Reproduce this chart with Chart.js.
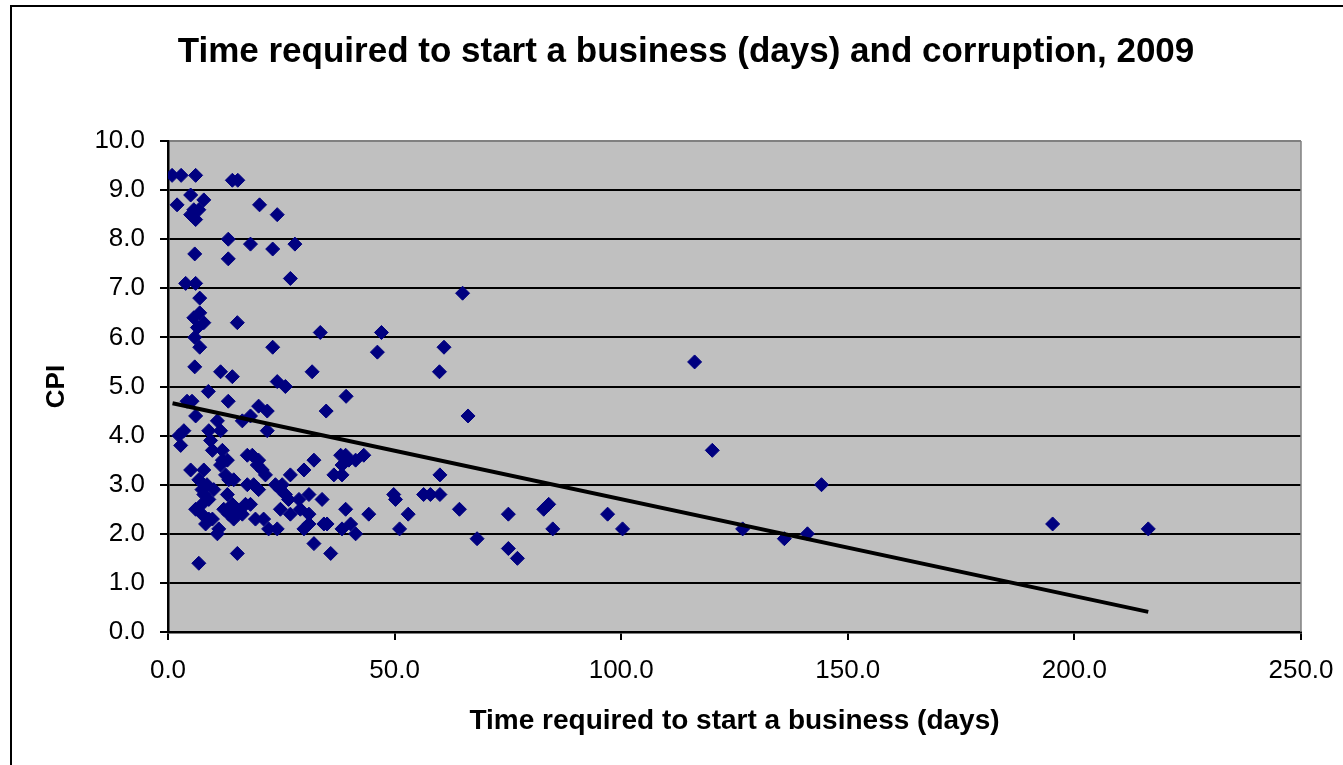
<!DOCTYPE html>
<html>
<head>
<meta charset="utf-8">
<script src="https://cdn.jsdelivr.net/npm/chart.js@4"></script>
<style>
html, body { margin: 0; padding: 0; background: #fff; overflow: hidden; width: 1343px; height: 765px; }
#frame { position: absolute; left: 10px; top: 5px; width: 1400px; height: 800px; border-left: 2px solid #000; border-top: 2px solid #000; }
#wrap { position: absolute; left: 0; top: 0; width: 1343px; height: 765px; }
</style>
</head>
<body>
<div id="frame"></div>
<div id="wrap"><canvas id="c" width="1343" height="765"></canvas></div>
<script>
// Time required to start a business (days)
const days = [
  0.9, 2.9, 6.1, 14.2, 15.4, 5.0, 2.0, 7.9, 5.7, 6.8,
  5.0, 6.1, 20.2, 24.1, 13.3, 18.2, 23.1, 28.0, 5.9, 13.3,
  3.9, 6.1, 27.0, 7.0, 7.0, 5.7, 7.9, 6.5, 15.3, 33.6,
  5.9, 7.0, 23.1, 5.9, 11.6, 14.2, 24.1, 31.8, 47.1, 60.9,
  46.2, 59.9, 25.9, 39.3, 34.9, 66.2, 65.0, 8.9, 4.2, 5.3,
  13.3, 20.0, 21.9, 6.1, 10.9, 18.2, 16.4, 11.6, 9.0, 21.9,
  3.5, 2.4, 2.8, 9.4, 9.8, 12.0, 12.0, 13.1, 17.5, 18.6,
  20.0, 11.6, 12.7, 20.8, 21.5, 5.0, 7.9, 6.8, 13.4, 14.5,
  17.5, 18.9, 20.0, 7.5, 10.1, 7.9, 9.0, 6.1, 7.5, 13.1,
  14.2, 17.1, 18.2, 7.5, 9.0, 8.3, 9.8, 12.3, 13.4, 15.3,
  16.4, 14.5, 19.3, 21.1, 22.2, 11.2, 10.9, 15.3, 6.8, 19.7,
  32.2, 30.0, 27.0, 38.1, 39.2, 39.9, 41.4, 43.2, 38.4, 36.6,
  38.4, 23.7, 24.8, 25.9, 26.6, 28.9, 31.1, 34.0, 24.8, 27.0,
  31.1, 39.2, 44.3, 24.1, 30.0, 31.1, 34.4, 35.1, 38.4, 40.3,
  41.4, 32.2, 35.9, 60.0, 49.8, 50.2, 56.4, 57.9, 60.0, 53.0,
  64.3, 51.1, 68.2, 75.1, 75.1, 77.1, 82.9, 84.0, 84.9, 97.0,
  100.3, 116.2, 120.1, 126.8, 136.0, 141.1, 144.2, 195.2, 216.3, 25.2,
  8.6, 29.2
];
// Corruption Perceptions Index
const cpi = [
  9.3, 9.3, 9.3, 9.2, 9.2, 8.9, 8.7, 8.8, 8.6, 8.6,
  8.5, 8.4, 8.7, 8.5, 8.0, 7.9, 7.8, 7.9, 7.7, 7.6,
  7.1, 7.1, 7.2, 6.8, 6.5, 6.4, 6.3, 6.2, 6.3, 6.1,
  6.0, 5.8, 5.8, 5.4, 5.3, 5.2, 5.1, 5.3, 6.1, 5.8,
  5.7, 5.3, 5.0, 4.8, 4.5, 4.4, 6.9, 4.9, 4.7, 4.7,
  4.7, 4.6, 4.5, 4.4, 4.3, 4.4, 4.3, 4.1, 4.1, 4.1,
  4.1, 4.0, 3.8, 3.9, 3.7, 3.7, 3.5, 3.5, 3.6, 3.6,
  3.5, 3.4, 3.2, 3.3, 3.2, 3.3, 3.3, 3.1, 3.1, 3.1,
  3.0, 3.0, 2.9, 2.9, 2.9, 2.8, 2.7, 2.5, 2.6, 2.8,
  2.6, 2.6, 2.6, 2.4, 2.3, 2.2, 2.3, 2.5, 2.4, 2.5,
  2.4, 2.3, 2.3, 2.3, 2.1, 2.1, 2.0, 1.6, 1.4, 3.4,
  3.5, 3.3, 3.2, 3.6, 3.6, 3.5, 3.5, 3.6, 3.4, 3.2,
  3.2, 3.0, 2.9, 2.8, 2.7, 2.7, 2.8, 2.7, 2.5, 2.4,
  2.4, 2.5, 2.4, 2.1, 2.1, 2.2, 2.2, 2.2, 2.1, 2.2,
  2.0, 1.8, 1.6, 3.2, 2.8, 2.7, 2.8, 2.8, 2.8, 2.4,
  2.5, 2.1, 1.9, 2.4, 1.7, 1.5, 2.5, 2.6, 2.1, 2.4,
  2.1, 5.5, 3.7, 2.1, 1.9, 2.0, 3.0, 2.2, 2.1, 3.0,
  3.0, 2.5
];
// Linear trend line endpoints
const trendDays = [1.0, 216.3];
const trendCpi = [4.66, 0.41];
// Axis ticks
const xTickValues = [0, 50, 100, 150, 200, 250];
const yTickValues = [0, 1, 2, 3, 4, 5, 6, 7, 8, 9, 10];

const FONT = "'Liberation Sans', Arial, sans-serif";

const plotBg = {
  id: 'plotBg',
  beforeDraw(chart) {
    const { ctx, chartArea: a } = chart;
    ctx.save();
    ctx.fillStyle = '#C0C0C0';
    ctx.fillRect(a.left, a.top, a.right - a.left, a.bottom - a.top);
    ctx.restore();
  },
  beforeDatasetsDraw(chart) {
    const { ctx, chartArea: a } = chart;
    ctx.save();
    ctx.strokeStyle = '#808080';
    ctx.lineWidth = 1.5;
    ctx.beginPath();
    ctx.moveTo(a.right, a.top);
    ctx.lineTo(a.right, a.bottom);
    ctx.stroke();
    ctx.restore();
  }
};

new Chart(document.getElementById('c'), {
  type: 'scatter',
  data: {
    datasets: [
      {
        type: 'line',
        label: 'Trend',
        data: trendDays.map((d, i) => ({ x: d, y: trendCpi[i] })),
        borderColor: '#000',
        borderWidth: 4,
        pointRadius: 0,
        fill: false,
        order: 0
      },
      {
        label: 'CPI',
        data: days.map((d, i) => ({ x: d, y: cpi[i] })),
        pointStyle: 'rectRot',
        pointRadius: 7,
        pointBackgroundColor: '#000080',
        pointBorderColor: '#000080',
        pointBorderWidth: 1,
        order: 1
      }
    ]
  },
  options: {
    responsive: false,
    animation: false,
    layout: { padding: { left: 29, right: 0, top: 0, bottom: 0 } },
    plugins: {
      legend: { display: false },
      tooltip: { enabled: false },
      title: {
        display: true,
        text: 'Time required to start a business (days) and corruption, 2009',
        color: '#000',
        font: { family: FONT, size: 35, weight: 'bold' },
        padding: { top: 31, bottom: 68 }
      }
    },
    scales: {
      x: {
        type: 'linear',
        min: 0,
        max: 250,
        afterBuildTicks: s => { s.ticks = xTickValues.map(v => ({ value: v })); },
        afterFit: s => { s.height = 133; s.paddingRight = 20; s.paddingLeft = 20; },
        ticks: {
          color: '#000',
          font: { family: FONT, size: 26 },
          padding: 15,
          maxRotation: 0,
          callback: v => Number(v).toFixed(1)
        },
        grid: { display: true, drawOnChartArea: false, drawTicks: true, tickLength: 8, color: '#000', lineWidth: 2 },
        border: { display: true, color: '#000', width: 2.5 },
        title: {
          display: true,
          text: 'Time required to start a business (days)',
          color: '#000',
          font: { family: FONT, size: 28, weight: 'bold' },
          padding: { top: 0, bottom: 27 }
        }
      },
      y: {
        type: 'linear',
        position: 'left',
        min: 0,
        max: 10,
        afterBuildTicks: s => { s.ticks = yTickValues.map(v => ({ value: v })); },
        afterFit: s => { s.width = 139; },
        ticks: {
          color: '#000',
          font: { family: FONT, size: 26 },
          padding: 15,
          callback: v => Number(v).toFixed(1)
        },
        grid: {
          display: true,
          drawOnChartArea: true,
          drawTicks: true,
          tickLength: 8,
          color: c => (c.tick && c.tick.value === 10 ? '#808080' : '#000'),
          tickColor: '#000',
          lineWidth: 2
        },
        border: { display: true, color: '#000', width: 2.5 },
        title: {
          display: true,
          text: 'CPI',
          color: '#000',
          font: { family: FONT, size: 26, weight: 'bold' },
          padding: { top: 12, bottom: 0 }
        }
      },
      y2: {
        type: 'linear',
        position: 'right',
        display: true,
        min: 0,
        max: 10,
        grid: { display: false, drawTicks: false },
        ticks: { display: false },
        border: { display: false },
        afterFit: s => { s.width = 42; }
      }
    }
  },
  plugins: [plotBg]
});
</script>
</body>
</html>
